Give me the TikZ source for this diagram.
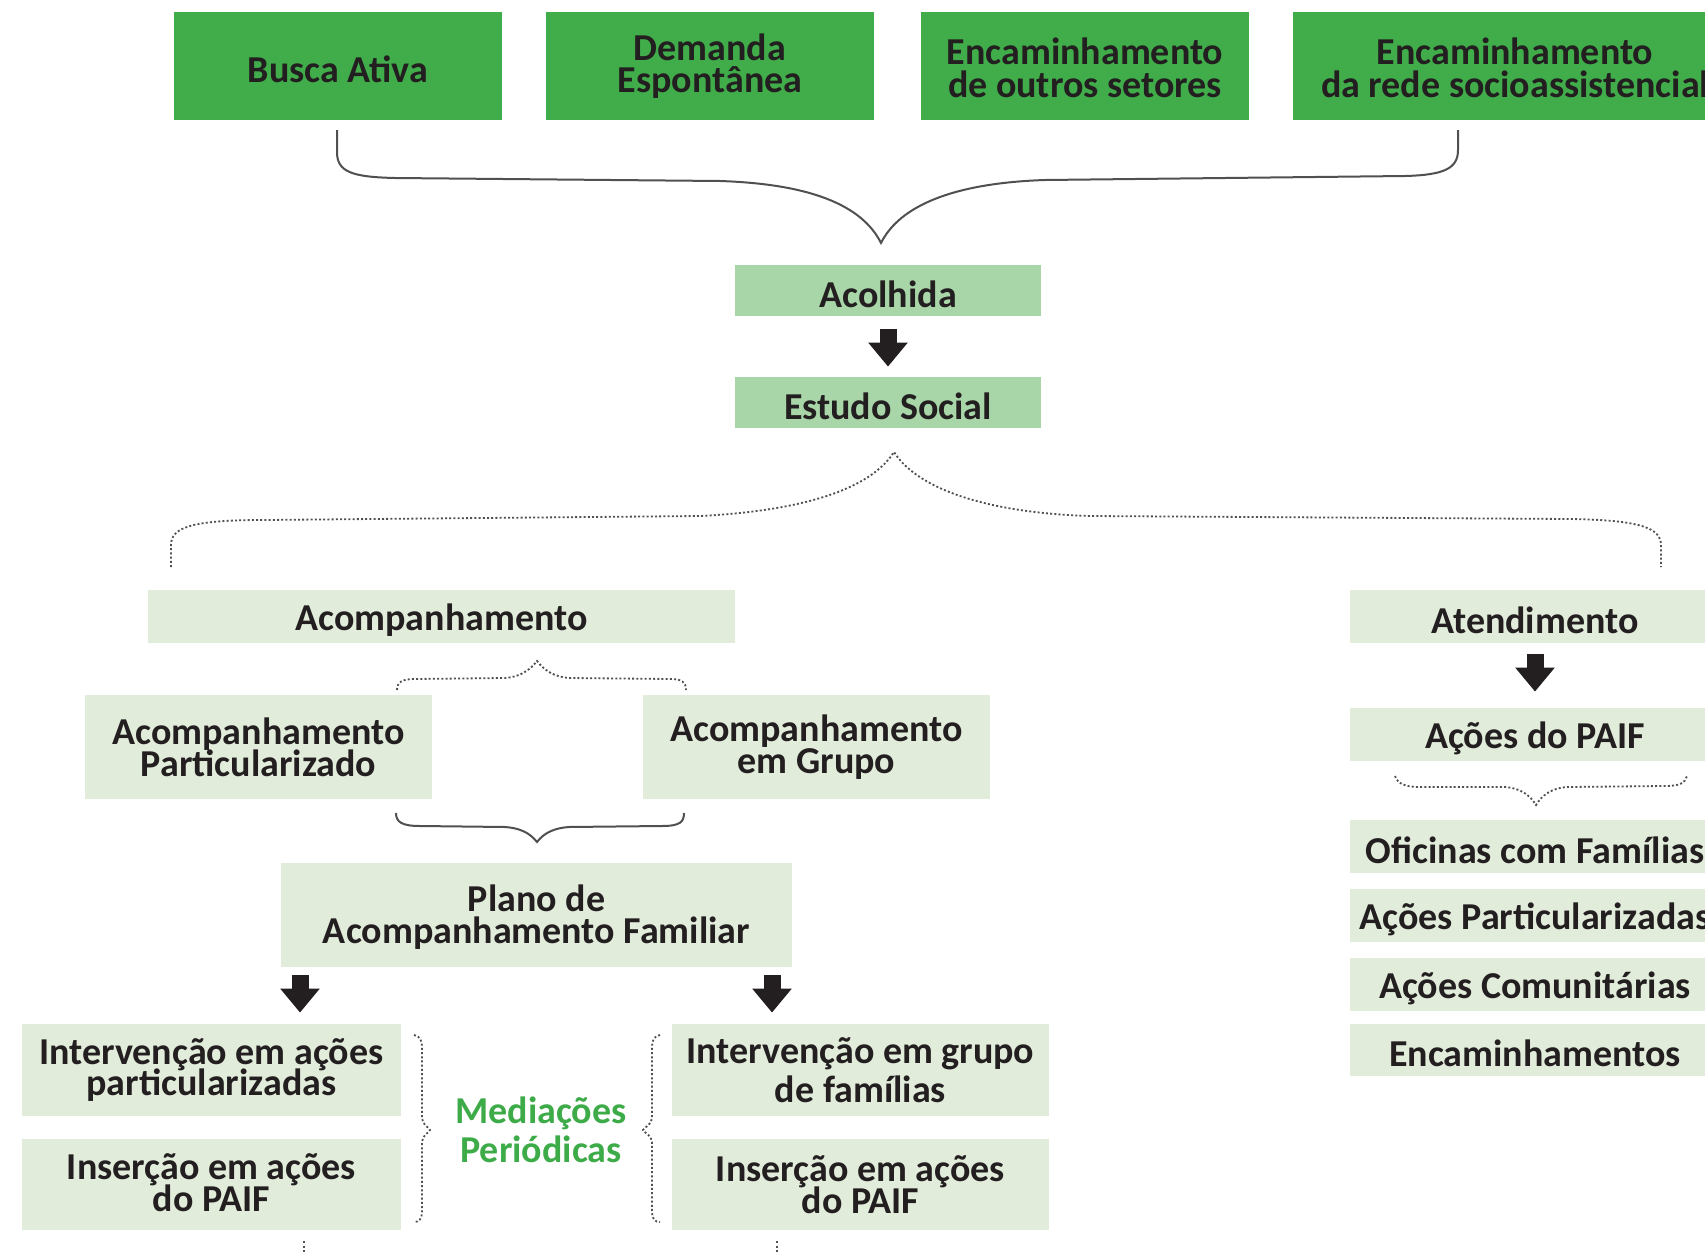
\documentclass[tikz,border=0pt]{standalone}
\usepackage{fontspec}
\setmainfont{Carlito}
\usetikzlibrary{fit,arrows.meta,calc}
\definecolor{topgreen}{HTML}{40AC4A}
\definecolor{midgreen}{HTML}{A8D6A8}
\definecolor{pale}{HTML}{E2ECDB}
\definecolor{txt}{HTML}{231F20}
\definecolor{medgreen}{HTML}{3EAB49}
\definecolor{bracegray}{HTML}{505050}
\newcommand\tightlns{\lineskiplimit=-30pt\relax\lineskip=0pt\relax}
\begin{document}
\begin{tikzpicture}[x=0.5pt,y=-0.5pt,
  box/.style={inner sep=0pt, draw=none},
  topbox/.style={box, fill=topgreen},
  midbox/.style={box, fill=midgreen},
  palebox/.style={box, fill=pale},
  lbl/.style={inner sep=0pt, align=center, text=txt,
    font=\bfseries\fontsize{19}{15.8}\selectfont\tightlns},
  lblone/.style={lbl, yshift=-1.7pt},
  toplbl/.style={lbl, font=\bfseries\fontsize{19}{16.2}\selectfont\tightlns},
  blockarrow/.style={draw=txt, line width=8.5pt, -{Triangle[width=19pt,length=12pt]}},
  brace/.style={draw=bracegray, line width=1pt},
  dbrace/.style={draw=bracegray, line width=0.9pt, dash pattern=on 1pt off 1.1pt},
]
\useasboundingbox (0,0) rectangle (1705,1253);
\clip (0,0) rectangle (1705,1253);

% top row
\node[topbox, fit={(174,12) (502,120)}] (busca) {};
\node[topbox, fit={(546,12) (874,120)}] (demanda) {};
\node[topbox, fit={(921,12) (1249,120)}] (outros) {};
\node[topbox, fit={(1293,12) (1737,120)}] (rede) {};
\node[toplbl, yshift=-1.5pt] (busca-t) at (busca) {Busca Ativa};
\node[toplbl] (demanda-t) at (demanda) {Demanda\\Espontânea};
\node[toplbl, yshift=-1pt] (outros-t) at (outros) {Encaminhamento\\de outros setores};
\node[toplbl, yshift=-1pt] (rede-t) at (rede) {Encaminhamento\\da rede socioassistencial};

% brace under top row
\draw[brace] (337,130) -- (337,152) .. controls (337,172) and (352,177) .. (395,178)
  -- (720,181) .. controls (810,184) and (862,205) .. (881,243)
  .. controls (900,205) and (955,183) .. (1045,180)
  -- (1405,176) .. controls (1445,175) and (1458,168) .. (1458,150) -- (1458,130);

% central column
\node[midbox, fit={(735,265) (1041,316)}] (acolhida) {};
\node[lblone] (acolhida-t) at (acolhida) {Acolhida};
\node[midbox, fit={(735,377) (1041,428)}] (estudo) {};
\node[lblone] (estudo-t) at (estudo) {Estudo Social};
\draw[blockarrow] ([yshift=-6.5pt]acolhida.south) -- ([yshift=5pt]estudo.north);

% big dotted brace
\draw[dbrace] (171,567) -- (171,545) .. controls (171,528) and (190,520) .. (263,520)
  -- (700,516) .. controls (800,511) and (870,490) .. (894,452)
  .. controls (918,490) and (990,513) .. (1090,516)
  -- (1570,519) .. controls (1640,520) and (1661,528) .. (1661,545) -- (1661,567);

% left branch
\node[palebox, fit={(148,590) (735,643)}] (acomp) {};
\node[lblone] (acomp-t) at (acomp) {Acompanhamento};
\draw[dbrace] (397,690) .. controls (397,682) and (402,679) .. (415,679)
  -- (505,678) .. controls (520,677) and (530,670) .. (537,661)
  .. controls (544,670) and (554,677) .. (569,678)
  -- (670,679) .. controls (682,679) and (686,682) .. (686,690);
\node[palebox, fit={(85,695) (432,799)}] (part) {};
\node[lbl] (part-t) at (part) {Acompanhamento\\Particularizado};
\node[palebox, fit={(643,695) (990,799)}] (grupo) {};
\node[lbl] (grupo-t) at (grupo) {Acompanhamento\\em Grupo};
\draw[brace] (396,813) .. controls (396,822) and (402,826) .. (420,826)
  -- (505,827) .. controls (520,828) and (530,833) .. (537,842)
  .. controls (544,833) and (554,828) .. (569,827)
  -- (662,826) .. controls (680,826) and (684,822) .. (684,813);
\node[palebox, fit={(281,863) (792,967)}] (plano) {};
\node[lbl, yshift=-1pt] (plano-t) at (plano) {Plano de\\Acompanhamento Familiar};

\node[palebox, fit={(22,1024) (401,1116)}] (intpart) {};
\node[lbl] (intpart-t) at (intpart) {Intervenção em ações\\particularizadas};
\node[palebox, fit={(22,1139) (401,1230)}] (inspart) {};
\node[lbl, yshift=1pt] (inspart-t) at (inspart) {Inserção em ações\\do PAIF};
\node[palebox, fit={(672,1024) (1049,1116)}] (intgrupo) {};
\node[lbl] (intgrupo-t) at (intgrupo) {Intervenção em grupo\\[3.5pt]de famílias};
\node[palebox, fit={(672,1139) (1049,1230)}] (insgrupo) {};
\node[lbl] (insgrupo-t) at (insgrupo) {Inserção em ações\\do PAIF};

\coordinate (a3) at (300,0);
\coordinate (a4) at (772,0);
\draw[blockarrow] ($(plano.south -| a3)+(0,8)$) -- ($(intpart.north -| a3)+(0,-11)$);
\draw[blockarrow] ($(plano.south -| a4)+(0,8)$) -- ($(intgrupo.north -| a4)+(0,-11)$);

% mediacoes
\draw[dbrace] (414,1035) .. controls (420,1036) and (422,1040) .. (422,1048) -- (422,1118)
  .. controls (422,1125) and (430,1128) .. (430,1130)
  .. controls (430,1132) and (422,1135) .. (422,1142) -- (422,1212)
  .. controls (422,1219) and (419,1222) .. (414,1222);
\draw[dbrace] (660,1035) .. controls (654,1036) and (652,1040) .. (652,1048) -- (652,1118)
  .. controls (652,1125) and (643,1128) .. (643,1130)
  .. controls (643,1132) and (652,1135) .. (652,1142) -- (652,1212)
  .. controls (652,1219) and (655,1222) .. (660,1222);
\node[align=center, inner sep=0pt, text=medgreen, font=\bfseries\fontsize{19}{19.5}\selectfont\tightlns] (med) at (541,1130) {Mediações\\Periódicas};

% bottom stubs
\coordinate (s1) at (304,1253);
\coordinate (s2) at (777,1253);
\draw[dbrace] ($(inspart.south -| s1)+(0,11)$) -- (s1);
\draw[dbrace] ($(insgrupo.south -| s2)+(0,11)$) -- (s2);

% right branch
\node[palebox, fit={(1350,590) (1720,643)}] (atend) {};
\node[lblone] (atend-t) at (atend) {Atendimento};
\node[palebox, fit={(1350,708) (1720,761)}] (paif) {};
\node[lblone] (paif-t) at (paif) {Ações do PAIF};
\draw[blockarrow] ([yshift=-5.5pt]atend.south) -- ([yshift=8pt]paif.north);
\draw[dbrace] (1395,776) .. controls (1398,784) and (1405,787) .. (1420,787)
  -- (1505,787) .. controls (1520,788) and (1530,795) .. (1536,805)
  .. controls (1542,795) and (1552,788) .. (1567,787)
  -- (1665,786) .. controls (1680,786) and (1685,783) .. (1687,776);
\node[palebox, fit={(1350,820) (1720,873)}] (oficinas) {};
\node[lblone] (oficinas-t) at (oficinas) {Oficinas com Famílias};
\node[palebox, fit={(1350,889) (1720,942)}] (acpart) {};
\node[lblone] (acpart-t) at (acpart) {Ações Particularizadas};
\node[palebox, fit={(1350,958) (1720,1011)}] (acom) {};
\node[lblone] (acom-t) at (acom) {Ações Comunitárias};
\node[palebox, fit={(1350,1024) (1720,1076)}] (encam) {};
\node[lblone] (encam-t) at (encam) {Encaminhamentos};
\end{tikzpicture}
\end{document}
